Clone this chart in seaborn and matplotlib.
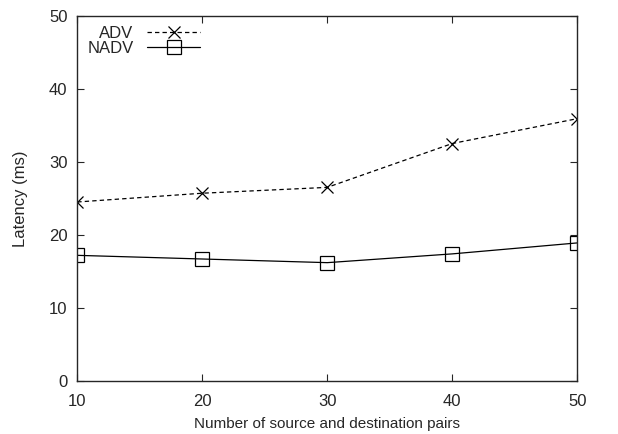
"""
Latency vs number of source/destination pairs, ADV vs NADV.
"""
import matplotlib
matplotlib.use("Agg")
import matplotlib.pyplot as plt
import seaborn as sns

pairs = [10, 20, 30, 40, 50]
adv = [24.5, 25.7, 26.5, 32.5, 35.9]
nadv = [17.2, 16.7, 16.2, 17.4, 18.9]

sns.set_style("ticks")
plt.rcParams["font.family"] = ["Liberation Sans", "DejaVu Sans"]
plt.rcParams["font.size"] = 12


def plot_latency():
    fig = plt.figure(figsize=(6.18, 4.34), dpi=100)
    ax = fig.add_axes([0.125, 0.122, 0.809, 0.842])

    sns.lineplot(x=pairs, y=adv, label="ADV", color="black", linewidth=0.9,
                 marker="x", markersize=8, markeredgewidth=0.9,
                 markeredgecolor="black", dashes=(3.5, 2.5), ax=ax)
    sns.lineplot(x=pairs, y=nadv, label="NADV", color="black", linewidth=0.9,
                 marker="s", markersize=10, markerfacecolor="none",
                 markeredgecolor="black", markeredgewidth=0.9, ax=ax)

    ax.set_xlim(10, 50)
    ax.set_ylim(0, 50)
    ax.set_xticks(pairs)
    ax.set_yticks(range(0, 51, 10))
    ax.set_xlabel("Number of source and destination pairs", fontsize=11,
                  labelpad=6)
    ax.set_ylabel("Latency (ms)", fontsize=12, labelpad=15)
    ax.tick_params(direction="in", top=True, right=True, length=5, width=0.8,
                   labelsize=12)
    ax.tick_params(axis="x", pad=9)
    ax.tick_params(axis="y", pad=7)
    for s in ax.spines.values():
        s.set_visible(True)
        s.set_linewidth(1.0)

    ax.legend(loc="upper left", frameon=False,
              markerfirst=False, handlelength=3.2, borderaxespad=0.3,
              borderpad=0.3, labelspacing=0.0, handletextpad=0.8, fontsize=12)

    fig.savefig("out.png", dpi=100)
    plt.close(fig)


if __name__ == "__main__":
    plot_latency()
